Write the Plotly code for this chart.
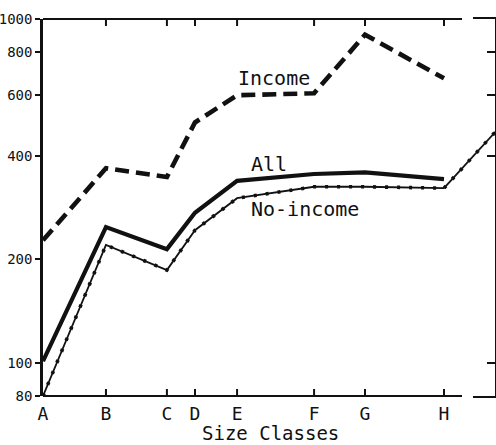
import math
import plotly.graph_objects as go

# Size classes and their positions along the class scale
classes = ["A", "B", "C", "D", "E", "F", "G", "H"]
class_pos = [0.0, 1.57, 3.09, 3.79, 4.84, 6.76, 8.03, 10.0]

# Series values (log scale)
income = [227, 368, 347, 500, 600, 608, 900, 672]
all_hh = [101, 248, 214, 273, 338, 354, 358, 342]
no_income = [80, 220, 186, 243, 301, 325, 325, 322]

# No-income line running on into the next panel
no_income_next_x = [10.0, 11.3]
no_income_next = [322, 472]

y_ticks = [80, 100, 200, 400, 600, 800, 1000]

W, H = 496, 445
FONT = "DejaVu Sans Mono"
INK = "#111111"
Y_MIN, Y_MAX = 80, 1000


def px(x):
    return x / W


def py(y):
    return 1 - y / H


y_dom = [py(396), py(19)]
x_end = (W - 43) / 40.1

fig = go.Figure()

fig.add_trace(go.Scatter(
    x=class_pos, y=income, mode="lines",
    line=dict(color=INK, width=4.6, dash="14px,7px"),
    hoverinfo="skip", showlegend=False))

fig.add_trace(go.Scatter(
    x=class_pos, y=all_hh, mode="lines",
    line=dict(color=INK, width=4.2),
    hoverinfo="skip", showlegend=False))

for xs, ys in ((class_pos, no_income), (no_income_next_x, no_income_next)):
    fig.add_trace(go.Scatter(
        x=xs, y=ys, mode="lines",
        line=dict(color=INK, width=1.8),
        hoverinfo="skip", showlegend=False))
    # beaded look of the thin line
    fig.add_trace(go.Scatter(
        x=xs, y=ys, mode="lines",
        line=dict(color=INK, width=3.6, dash="3px,9px"),
        hoverinfo="skip", showlegend=False))

# class tick marks on the bottom and top edges, pointing inward
tick_px = 7
tick_marks = []
for xv in class_pos[1:]:
    for edge, sign in ((y_dom[0], 1), (y_dom[1], -1)):
        tick_marks.append(dict(
            type="line", xref="x", yref="paper", layer="above",
            x0=xv, x1=xv, y0=edge, y1=edge + sign * tick_px / H,
            line=dict(color=INK, width=2)))

# empty trace so the neighbouring panel's axes are drawn
fig.add_trace(go.Scatter(x=[None], y=[None], xaxis="x2", yaxis="y2",
                         showlegend=False, hoverinfo="skip"))

# frame of the main panel: bottom and top edges
frame = [
    dict(type="line", xref="paper", yref="paper",
         x0=px(43), x1=px(462), y0=yy, y1=yy,
         line=dict(color=INK, width=2))
    for yy in y_dom
]

fig.update_layout(
    width=W, height=H, autosize=False,
    margin=dict(l=0, r=0, t=0, b=0, pad=0),
    paper_bgcolor="white", plot_bgcolor="rgba(0,0,0,0)",
    font=dict(family=FONT, color=INK),
    xaxis=dict(
        domain=[px(43), 1], range=[0, x_end],
        tickvals=class_pos, ticktext=classes, ticks="",
        showline=False, showgrid=False, zeroline=False,
        ticklabelstandoff=5, automargin=False,
        tickfont=dict(family=FONT, size=18, color=INK),
    ),
    yaxis=dict(
        domain=y_dom, type="log", range=[math.log10(Y_MIN), math.log10(Y_MAX)],
        tickvals=y_ticks, ticktext=[str(v) for v in y_ticks],
        ticks="outside", ticklen=5, tickwidth=1.5, tickcolor=INK,
        showline=True, linecolor=INK, linewidth=2.5, automargin=False,
        showgrid=False, zeroline=False,
        tickfont=dict(family=FONT, size=14, color=INK),
    ),
    xaxis2=dict(
        domain=[px(473), px(495)], range=[0, 1], anchor="y2",
        showline=True, mirror=True, linecolor=INK, linewidth=2,
        showticklabels=False, ticks="", showgrid=False, zeroline=False,
        automargin=False,
    ),
    yaxis2=dict(
        domain=y_dom, type="log", range=[math.log10(Y_MIN), math.log10(Y_MAX)],
        anchor="x2", automargin=False,
        side="right", showline=True, linecolor=INK, linewidth=2,
        tickvals=[100, 400, 600, 800], ticks="inside", ticklen=8,
        tickwidth=1.5, tickcolor=INK,
        showticklabels=False, showgrid=False, zeroline=False,
    ),
    shapes=frame + tick_marks,
    annotations=[
        dict(text="Size Classes", x=px(270), y=py(433), xref="paper", yref="paper",
             xanchor="center", yanchor="middle",
             showarrow=False, font=dict(family=FONT, size=19, color=INK)),
        dict(text="Income", x=px(274), y=py(78), xref="paper", yref="paper",
             xanchor="center", yanchor="middle",
             showarrow=False, font=dict(family=FONT, size=20, color=INK)),
        dict(text="All", x=px(269), y=py(164), xref="paper", yref="paper",
             xanchor="center", yanchor="middle",
             showarrow=False, font=dict(family=FONT, size=20, color=INK)),
        dict(text="No-income", x=px(305), y=py(209), xref="paper", yref="paper",
             xanchor="center", yanchor="middle",
             showarrow=False, font=dict(family=FONT, size=20, color=INK)),
    ],
)

fig.write_html("out.html")
